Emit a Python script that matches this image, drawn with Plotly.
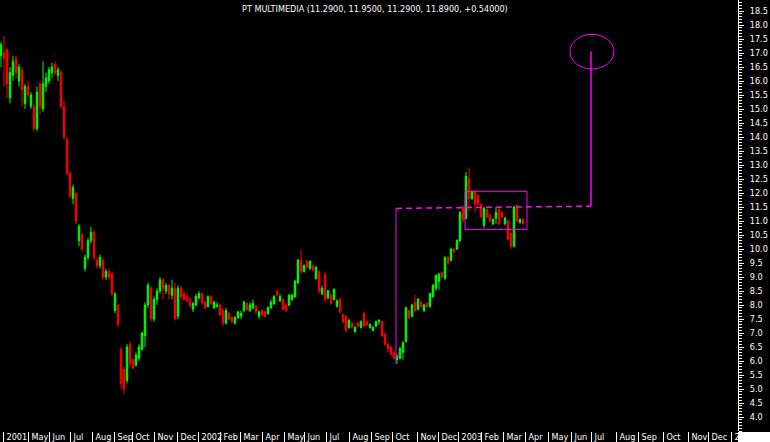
import plotly.graph_objects as go

FONT = "Liberation Sans Narrow, Arial Narrow, DejaVu Sans Condensed, sans-serif"

title_text = "PT MULTIMEDIA (11.2900, 11.9500, 11.2900, 11.8900, +0.54000)"

open_ = [16.9,17.0,17.1,15.4,16.2,16.8,16.0,16.4,15.2,15.8,
         15.1,15.1,14.3,15.9,15.0,15.8,16.0,16.3,16.6,16.2,
         16.3,15.1,13.9,12.7,11.8,12.0,10.3,10.5,9.3,9.7,
         10.3,10.6,9.6,9.4,9.6,9.0,9.2,9.1,7.8,8.0,
         6.4,5.7,5.3,6.6,6.05,5.85,6.1,6.4,6.9,8.0,
         8.6,7.5,8.2,8.5,8.9,8.5,8.7,8.35,8.6,7.6,
         8.6,8.4,8.3,8.2,7.85,8.0,8.25,8.4,8.1,7.95,
         8.3,7.9,7.95,8.0,7.8,7.35,7.7,7.55,7.35,7.55,
         7.6,7.8,8.05,7.8,7.9,7.95,7.6,7.8,7.75,7.7,
         7.9,8.05,8.5,8.15,8.2,8.0,8.0,8.2,8.3,8.8,
         9.6,9.2,9.55,9.3,9.4,8.95,9.2,8.4,9.1,8.25,
         8.35,8.2,7.95,8.2,7.65,7.6,7.2,7.35,7.05,7.35,
         7.2,7.7,7.4,7.2,7.1,7.25,7.4,7.4,6.95,6.6,
         6.5,6.3,6.05,6.1,6.3,6.7,7.8,7.6,8.1,7.85,
         8.1,7.8,8.05,7.95,8.3,8.6,8.85,9.15,8.95,9.7,
         9.6,10.0,10.0,10.3,11.5,11.1,12.5,11.8,12.05,11.9,
         11.6,10.85,11.4,11.2,10.9,11.1,11.4,11.3,10.9,11.0,
         10.55,10.1,11.55,10.95,11.05]

high = [17.4,17.6,17.2,16.5,16.9,16.9,16.6,16.5,15.9,16.0,
        15.6,15.2,15.8,16.0,16.7,16.3,16.5,16.65,16.7,16.5,
        16.4,15.3,14.0,12.8,12.3,12.0,10.9,10.6,9.8,10.4,
        10.8,10.7,9.7,9.8,9.7,9.3,9.3,9.2,8.45,8.0,
        6.5,5.8,6.6,6.7,6.1,6.3,6.6,7.05,8.1,8.8,
        8.65,8.3,8.6,9.0,8.95,8.8,8.75,8.9,8.8,8.7,
        8.7,8.5,8.4,8.3,8.1,8.4,8.5,8.45,8.15,8.35,
        8.35,8.15,8.1,8.05,7.9,7.9,7.75,7.6,7.6,7.8,
        7.8,8.15,8.1,8.1,8.2,8.0,7.8,7.85,7.8,7.95,
        8.2,8.35,8.55,8.4,8.25,8.05,8.4,8.4,8.9,9.65,
        10.0,9.45,9.6,9.6,9.45,9.4,9.25,8.7,9.2,8.55,
        8.4,8.6,8.2,8.25,7.7,7.65,7.5,7.4,7.25,7.4,
        7.45,7.75,7.45,7.35,7.25,7.45,7.5,7.45,7.0,6.65,
        6.55,6.35,6.25,6.5,6.7,7.95,7.8,8.05,8.35,8.25,
        8.15,8.05,8.1,8.45,8.75,9.1,9.15,9.2,9.75,9.75,
        10.05,10.05,10.35,11.35,11.55,12.75,12.9,12.1,12.1,11.95,
        11.6,11.5,11.45,11.25,11.1,11.5,11.45,11.35,11.15,11.05,
        10.6,11.55,11.6,11.1,11.1]

low = [16.5,15.8,15.4,15.2,16.0,16.1,15.8,15.1,15.0,15.4,
       15.0,14.2,14.2,14.8,14.9,15.6,15.9,16.1,16.2,16.0,
       15.0,13.9,12.6,11.8,11.6,10.9,10.1,9.9,9.2,9.6,
       10.2,9.6,9.3,9.3,8.9,8.9,8.9,8.3,7.7,7.2,
       5.0,4.8,5.2,5.8,5.7,5.8,6.0,6.4,6.5,7.9,
       7.4,7.4,8.0,8.4,8.2,8.4,8.2,8.2,7.45,7.5,
       8.2,8.15,8.1,7.9,7.75,7.95,8.2,8.0,7.85,7.9,
       8.0,7.85,7.9,7.6,7.25,7.3,7.45,7.35,7.3,7.5,
       7.5,7.75,7.8,7.75,7.85,7.7,7.5,7.6,7.55,7.65,
       7.85,8.0,8.3,8.1,7.8,7.75,7.95,8.15,8.25,8.75,
       9.1,9.15,9.3,9.25,9.2,8.9,8.4,8.35,8.1,8.2,
       8.0,8.15,7.9,7.7,7.35,7.0,7.15,7.15,7.0,7.2,
       7.15,7.2,7.25,7.15,7.05,7.2,7.3,6.85,6.55,6.3,
       6.2,6.05,5.9,6.05,6.05,6.65,7.5,7.55,7.75,7.8,
       7.9,7.75,7.9,7.9,8.25,8.5,8.55,8.95,8.9,9.45,
       9.55,9.85,9.95,10.25,10.95,11.05,11.35,11.75,11.3,11.55,
       11.1,10.75,11.1,10.95,10.85,10.9,10.85,11.1,10.85,10.3,
       10.0,10.05,10.95,10.9,10.85]

close = [17.3,16.8,15.9,16.3,16.7,16.3,16.5,15.7,15.8,15.5,
         15.5,14.3,15.6,15.1,15.9,16.1,16.4,16.5,16.3,16.4,
         15.1,14.0,12.7,11.9,12.2,11.0,10.8,10.0,9.7,10.3,
         10.6,9.7,9.4,9.7,9.0,9.2,9.0,8.4,8.4,7.3,
         5.2,5.0,6.5,5.9,5.75,6.2,6.5,7.0,8.0,8.7,
         7.5,8.2,8.5,8.9,8.6,8.7,8.4,8.6,7.5,8.6,
         8.3,8.2,8.15,8.0,8.05,8.3,8.4,8.1,7.9,8.3,
         8.05,8.1,8.0,7.65,7.35,7.8,7.5,7.4,7.55,7.75,
         7.7,8.1,7.85,8.0,8.05,7.75,7.75,7.65,7.6,7.9,
         8.1,8.3,8.35,8.3,7.85,7.8,8.35,8.35,8.85,9.6,
         9.2,9.4,9.35,9.55,9.25,9.35,8.5,8.6,8.2,8.5,
         8.05,8.55,8.15,7.75,7.4,7.1,7.45,7.2,7.2,7.25,
         7.4,7.25,7.3,7.3,7.2,7.4,7.45,6.9,6.6,6.45,
         6.25,6.1,6.15,6.45,6.65,7.9,7.55,8.0,7.8,8.2,
         7.95,8.0,7.95,8.4,8.7,9.05,9.1,9.0,9.7,9.5,
         10.0,9.9,10.3,11.3,11.05,12.6,11.8,12.05,11.6,11.6,
         11.15,11.45,11.15,11.0,11.05,11.3,10.9,11.15,11.1,10.35,
         10.1,11.5,11.0,11.05,10.9]

# trading-session index of each bar (one bar every 3 sessions)
session = [3 * i for i in range(len(close))]

month_tick_sessions = [2, 27, 48, 69, 91, 113, 131, 153, 176, 197,
                       219, 239, 261, 283, 303, 325, 348, 370, 391, 416,
                       437, 457, 480, 502, 524, 547, 570, 590, 615, 637,
                       662, 687, 707, 730]
month_tick_labels = ["2001", "May", "Jun", "Jul", "Aug", "Sep", "Oct", "Nov", "Dec", "2002",
                     "Feb", "Mar", "Apr", "May", "Jun", "Jul", "Aug", "Sep", "Oct", "Nov",
                     "Dec", "2003", "Feb", "Mar", "Apr", "May", "Jun", "Jul", "Aug", "Sep",
                     "Oct", "Nov", "Dec", "2004"]

price_ticks = [4.0 + 0.5 * k for k in range(30)]
price_tick_labels = ["%.1f" % v for v in price_ticks]

# drawing levels
breakout_start, breakout_end = 395, 590
breakout_level_start, breakout_level_end = 11.45, 11.53
base_low = 5.9
target_level = 17.05
box_x0, box_x1, box_low, box_high = 464, 526, 10.70, 12.06
ell_x0, ell_x1, ell_low, ell_high = 569, 613, 16.43, 17.67

MAG = "#ff00ff"

fig = go.Figure()
fig.add_trace(go.Candlestick(
    x=session, open=open_, high=high, low=low, close=close,
    increasing=dict(line=dict(color="#00ff00", width=1), fillcolor="#00ff00"),
    decreasing=dict(line=dict(color="#ff0000", width=1), fillcolor="#ff0000"),
    whiskerwidth=0, hoverinfo="skip", showlegend=False,
))

shapes = [
    dict(type="line", xref="x", yref="y", x0=breakout_start, x1=breakout_end,
         y0=breakout_level_start, y1=breakout_level_end,
         line=dict(color=MAG, width=1.5, dash="6px,4px")),
    dict(type="line", xref="x", yref="y", x0=breakout_start, x1=breakout_start,
         y0=base_low, y1=breakout_level_start, line=dict(color=MAG, width=1)),
    dict(type="line", xref="x", yref="y", x0=breakout_end, x1=breakout_end,
         y0=breakout_level_end, y1=target_level, line=dict(color=MAG, width=1.5)),
    dict(type="rect", xref="x", yref="y", x0=box_x0, x1=box_x1, y0=box_low, y1=box_high,
         line=dict(color=MAG, width=1)),
    dict(type="circle", xref="x", yref="y", x0=ell_x0, x1=ell_x1, y0=ell_low, y1=ell_high,
         line=dict(color=MAG, width=1)),
    dict(type="rect", xref="paper", yref="paper", x0=1.0, x1=1.0 + 32 / 738,
         y0=-11 / 431, y1=-1 / 431, fillcolor="white", line=dict(width=0), layer="above"),
]

fig.update_layout(
    width=770, height=442,
    margin=dict(l=0, r=32, t=0, b=11, pad=0, autoexpand=False),
    paper_bgcolor="black", plot_bgcolor="black",
    showlegend=False,
    shapes=shapes,
    annotations=[dict(text=title_text, xref="paper", yref="paper", x=375 / 738, y=1,
                      xanchor="center", yanchor="top", yshift=-2, showarrow=False,
                      font=dict(family=FONT, size=9, color="white"))],
    xaxis=dict(
        range=[-1, 737], showgrid=False, zeroline=False, showline=False,
        automargin=False, tickangle=0,
        tickmode="array", tickvals=month_tick_sessions, ticktext=month_tick_labels,
        ticks="outside", ticklen=11, tickcolor="white", tickwidth=1,
        ticklabelposition="outside right", ticklabelshift=3, ticklabelstandoff=-3,
        tickfont=dict(family=FONT, size=9, color="white"),
        rangeslider=dict(visible=False), fixedrange=True,
    ),
    yaxis=dict(
        side="right", range=[3.5, 18.893], showgrid=False, zeroline=False,
        automargin=False,
        showline=True, linecolor="white", linewidth=1,
        tickmode="array", tickvals=price_ticks, ticktext=price_tick_labels,
        ticks="outside", ticklen=5, tickcolor="white", tickwidth=1,
        ticklabelstandoff=4,
        minor=dict(dtick=0.1, tick0=0, ticks="outside", ticklen=3, tickcolor="white", showgrid=False),
        tickfont=dict(family=FONT, size=9, color="white"), fixedrange=True,
    ),
)

fig.write_html("out.html", config={"displayModeBar": False, "staticPlot": True},
               post_script="document.body.style.margin='0';document.body.style.background='black';")
